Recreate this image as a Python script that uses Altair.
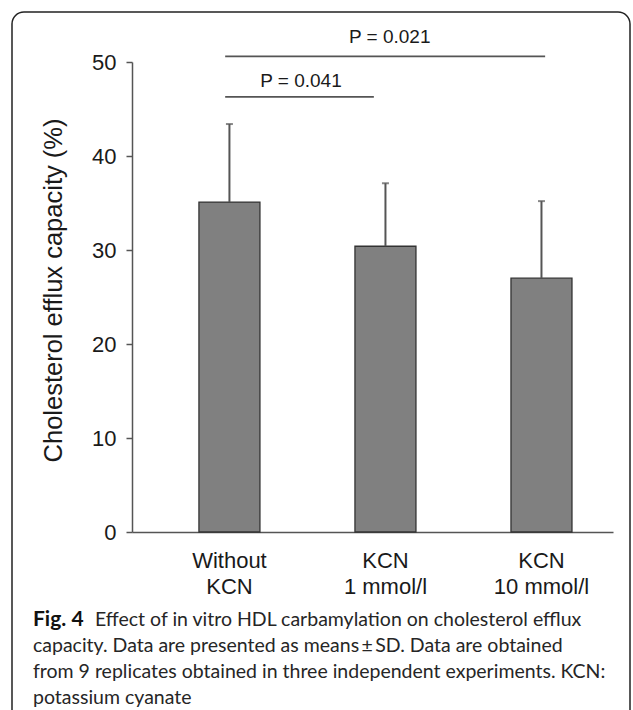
import altair as alt
import pandas as pd

# ---- data ----
categories = ["Without\nKCN", "KCN\n1 mmol/l", "KCN\n10 mmol/l"]
means = [35.1, 30.4, 27.0]
sds = [8.3, 6.7, 8.2]

bracket_labels = ["P = 0.021", "P = 0.041"]
bracket_y = [50.6, 46.3]
bracket_text_y = [52.0, 47.3]
bracket_from = ["Without\nKCN", "Without\nKCN"]
bracket_to = ["KCN\n10 mmol/l", "KCN\n1 mmol/l"]

caption_bold = "Fig. 4"
caption_lines = [
    "Effect of in vitro HDL carbamylation on cholesterol efflux",
    "capacity. Data are presented as means\u2009\u00b1\u2009SD. Data are obtained",
    "from 9 replicates obtained in three independent experiments. KCN:",
    "potassium cyanate",
]

df = pd.DataFrame({"cat": categories, "mean": means, "sd": sds})
df["top"] = df["mean"] + df["sd"]

W, H = 481, 470
FONT = "Liberation Sans"
CAP_FONT = "Lato"
CAP_SIZE = 19.5

xscale = alt.Scale(domain=categories, paddingInner=0.609, paddingOuter=0.346, align=0.62)
yscale = alt.Scale(domain=[0, 50], nice=False)

base = alt.Chart(df)

bars = base.mark_bar(color="#808080", stroke="#333333", strokeWidth=1.3).encode(
    x=alt.X("cat:N", scale=xscale, sort=categories,
            axis=alt.Axis(title=None, labelAngle=0, ticks=False, domainColor="#555555",
                          domainWidth=1.5, labelFont=FONT, labelFontSize=22,
                          labelColor="#1a1a1a", labelPadding=18, labelLineHeight=26,
                          labelExpr="split(datum.value, '\\n')")),
    y=alt.Y("mean:Q", scale=yscale,
            axis=alt.Axis(title="Cholesterol efflux capacity (%)", values=[0, 10, 20, 30, 40, 50],
                          grid=False, tickSize=6, tickColor="#555555", tickWidth=1.5,
                          domainColor="#555555", domainWidth=1.5,
                          labelFont=FONT, labelFontSize=22, labelColor="#1a1a1a",
                          labelPadding=10, titleFont=FONT, titleFontSize=25.5,
                          titleFontWeight="normal", titleColor="#1a1a1a", titlePadding=25,
                          titleY=228)),
)

err = base.mark_rule(color="#555555", strokeWidth=2).encode(
    x=alt.X("cat:N", scale=xscale, sort=categories),
    y="mean:Q",
    y2="top:Q",
)
caps = base.mark_tick(color="#555555", thickness=2, size=7).encode(
    x=alt.X("cat:N", scale=xscale, sort=categories),
    y="top:Q",
)

layers = [bars, err, caps]

# brackets
br_end_pos = [0.56, 0.31]
txt_pos = [("KCN\n1 mmol/l", 0.57, 0), ("Without\nKCN", 1.0, 41)]
for i in range(2):
    bdf = pd.DataFrame({"a": [bracket_from[i]], "b": [bracket_to[i]], "y": [bracket_y[i]],
                        "ty": [bracket_text_y[i]], "lab": [bracket_labels[i]],
                        "tc": [txt_pos[i][0]]})
    bc = alt.Chart(bdf)
    layers.append(bc.mark_rule(color="#555555", strokeWidth=1.8).encode(
        x=alt.X("a:N", scale=xscale, sort=categories, bandPosition=0.43),
        x2=alt.X2("b:N", bandPosition=br_end_pos[i]),
        y="y:Q",
    ))
    layers.append(bc.mark_text(font=FONT, fontSize=19, color="#1a1a1a", baseline="alphabetic",
                               dx=txt_pos[i][2]).encode(
        x=alt.X("tc:N", scale=xscale, sort=categories, bandPosition=txt_pos[i][1]),
        y="ty:Q",
        text="lab:N",
    ))

# frame
frame = alt.Chart(pd.DataFrame({"k": [0]})).mark_rect(
    fill=None, fillOpacity=0, stroke="#222222", strokeWidth=1.5, cornerRadius=12
).encode(x=alt.value(-120), x2=alt.value(498), y=alt.value(-50), y2=alt.value(800))
layers.append(frame)

# caption
CAP_Y0 = 564
CAP_DY = 26
cap_bold = alt.Chart(pd.DataFrame({"t": [caption_bold]})).mark_text(
    font=CAP_FONT, fontSize=21, fontWeight="bold", align="left", baseline="alphabetic",
    color="#111111"
).encode(x=alt.value(-99), y=alt.value(CAP_Y0), text="t:N")
layers.append(cap_bold)

for i, line in enumerate(caption_lines):
    layers.append(alt.Chart(pd.DataFrame({"t": [line]})).mark_text(
        font=CAP_FONT, fontSize=CAP_SIZE, align="left", baseline="alphabetic", color="#262626"
    ).encode(x=alt.value(-37 if i == 0 else -99), y=alt.value(CAP_Y0 + CAP_DY * i), text="t:N"))

chart = alt.layer(*layers).properties(
    width=W, height=H,
    autosize=alt.AutoSizeParams(type="none"),
    padding={"left": 132, "top": 62, "right": 20, "bottom": 178},
).configure_view(stroke=None)

chart.save("out.html", embed_options={"renderer": "svg", "actions": False})
